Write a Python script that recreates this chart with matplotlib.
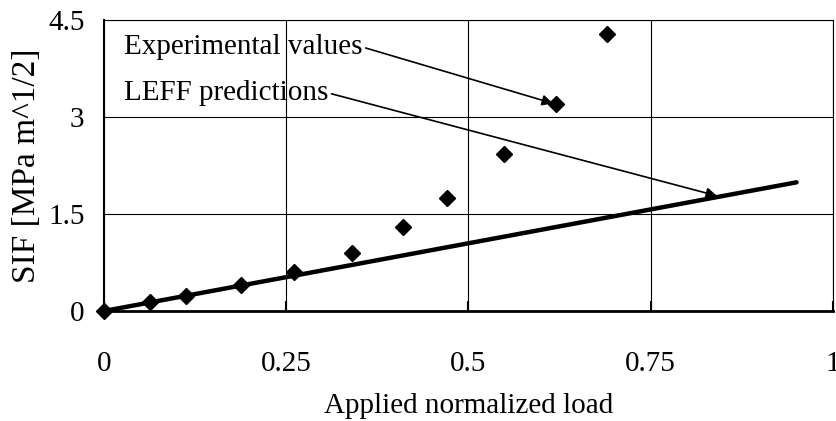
import numpy as np
import matplotlib.pyplot as plt

load_exp = [0.0, 0.063, 0.112, 0.188, 0.26, 0.34, 0.41, 0.47, 0.549, 0.62, 0.69]
sif_exp = [0.0, 0.14, 0.23, 0.40, 0.60, 0.90, 1.30, 1.74, 2.43, 3.20, 4.28]

# LEFF prediction (straight line)
load_pred = [0.0, 0.95]
sif_pred = [0.0, 1.99]

x_ticks = [0, 0.25, 0.5, 0.75, 1]
x_labels = ['0', '0.25', '0.5', '0.75', '1']
y_ticks = [0, 1.5, 3, 4.5]
y_labels = ['0', '1.5', '3', '4.5']

plt.rcParams['font.family'] = ['Liberation Serif', 'DejaVu Serif']

fig = plt.figure(figsize=(8.37, 4.21), dpi=100)
ax = fig.add_axes([104 / 837, 1 - 311 / 421, 729 / 837, 291 / 421])

ax.plot(load_pred, sif_pred, color='black', linewidth=3.2, solid_capstyle='round', zorder=3)
ax.plot(load_exp, sif_exp, linestyle='none', marker='D', markersize=8.5,
        color='black', zorder=4, clip_on=False)

ax.set_xlim(0, 1)
ax.set_ylim(0, 4.5)
ax.set_xticks(x_ticks)
ax.set_xticklabels(x_labels, fontsize=21)
ax.set_yticks(y_ticks)
ax.set_yticklabels(y_labels, fontsize=21)
ax.tick_params(axis='x', direction='in', length=7, width=1.5, pad=29)
ax.tick_params(axis='y', length=0, pad=14)
ax.grid(True, color='black', linewidth=0.8)
ax.set_axisbelow(True)

for side in ['top', 'right']:
    ax.spines[side].set_linewidth(0.8)
ax.spines['left'].set_linewidth(1.5)
ax.spines['bottom'].set_linewidth(2)

ax.set_xlabel('Applied normalized load', fontsize=21, labelpad=11)
ax.set_ylabel('SIF [MPa m^1/2]', fontsize=24, labelpad=4)

ax.annotate('Experimental values', xy=(0.616, 3.21), xytext=(0.028, 4.08),
            fontsize=21, va='center', ha='left',
            arrowprops=dict(arrowstyle='-|>', color='black', lw=1.2,
                            mutation_scale=16, shrinkA=0, shrinkB=0,
                            relpos=(1, 0.5)))
ax.annotate('LEFF predictions', xy=(0.841, 1.78), xytext=(0.028, 3.37),
            fontsize=21, va='center', ha='left',
            arrowprops=dict(arrowstyle='-|>', color='black', lw=1.2,
                            mutation_scale=16, shrinkA=0, shrinkB=0,
                            relpos=(1, 0.5)))

fig.savefig('out.png', dpi=100)
